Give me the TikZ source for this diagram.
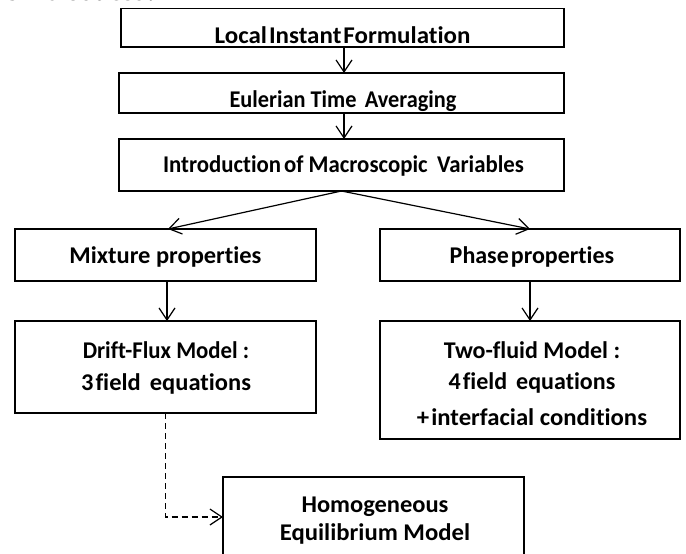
\documentclass[tikz,border=0pt]{standalone}
\usepackage{fontspec}
\usepackage{graphicx}
\setmainfont{Carlito}[Ligatures=NoCommon]
\newfontfamily\bodyserif{Liberation Serif}
\usetikzlibrary{arrows.meta}
\newcommand{\sq}[2]{\scalebox{#1}[1]{#2}}
\begin{document}
\begin{tikzpicture}[x=1pt,y=-1pt,
  box/.style={draw, line width=1.5pt, inner sep=0pt, outer sep=0pt},
  lbl/.style={anchor=base, inner sep=0pt, font=\bfseries\fontsize{24}{30}\selectfont},
  flow/.style={line width=1.2pt, -{Straight Barb[length=12pt,width=16pt,line width=1.2pt]}},
  dflow/.style={flow, dash pattern=on 6pt off 4pt}
]
\useasboundingbox (0,0) rectangle (686,554);

% tail of the preceding sentence, cut by the top edge
\node[anchor=base west, inner sep=0pt, font=\bodyserif\bfseries\fontsize{26.5}{30}\selectfont] (prev) at (0,1) {is introduced.};

% boxes
\node[box, minimum width=443pt, minimum height=38.5pt] (b1) at (342.5,27.75) {};
\node[box, minimum width=445pt, minimum height=40pt]   (b2) at (341.5,93) {};
\node[box, minimum width=445pt, minimum height=52pt]   (b3) at (341.5,165) {};
\node[box, minimum width=301pt, minimum height=52pt]   (mix) at (165.5,255) {};
\node[box, minimum width=300pt, minimum height=52pt]   (phase) at (530,255) {};
\node[box, minimum width=301pt, minimum height=92pt]   (drift) at (165.5,367) {};
\node[box, minimum width=300pt, minimum height=118pt]  (two) at (530,380) {};
\node[box, minimum width=301pt, minimum height=106pt]  (hem) at (373.5,530) {};

% labels
\node[lbl] (t1) at (342.5,43) {\sq{1.04}{Local\hspace{2pt}Instant\hspace{2pt}Formulation}};
\node[lbl] (t2) at (343,107) {\sq{0.93}{Eulerian Time\hspace{9pt}Averaging}};
\node[lbl] (t3) at (343.5,172) {\sq{0.95}{Introduction\hspace{3pt}of Macroscopic\hspace{10pt}Variables}};
\node[lbl] (tmix) at (165.5,263) {\sq{1.02}{Mixture properties}};
\node[lbl] (tphase) at (532,263) {Phase\hspace{2pt}properties};
\node[lbl] (td1) at (166,358) {\sq{0.95}{Drift-Flux Model :}};
\node[lbl] (td2) at (166,390) {\sq{1.02}{3\hspace{2pt}field\hspace{9pt}equations}};
\node[lbl] (tt1) at (532,358) {Two-fluid Model :};
\node[lbl] (tt2) at (532,389) {4\hspace{2pt}field\hspace{9pt}equations};
\node[lbl] (tt3) at (532,425) {\sq{1.03}{+\hspace{2pt}interfacial conditions}};
\node[lbl] (th1) at (375,512) {\sq{1.02}{Homogeneous}};
\node[lbl] (th2) at (375,540) {\sq{1.03}{Equilibrium Model}};

% connectors
\draw[flow] ([xshift=1.5pt]b1.south) -- ([xshift=2.5pt]b2.north);
\draw[flow] ([xshift=2.5pt]b2.south) -- ([xshift=2.5pt]b3.north);
\draw[flow] (b3.south) -- ([xshift=2.5pt]mix.north);
\draw[flow] (b3.south) -- (phase.north);
\draw[flow] ([xshift=1.5pt]mix.south) -- ([xshift=1.5pt]drift.north);
\draw[flow] (phase.south) -- (two.north);
\draw[dflow] (drift.south) |- ([yshift=13pt]hem.west);
\end{tikzpicture}
\end{document}
